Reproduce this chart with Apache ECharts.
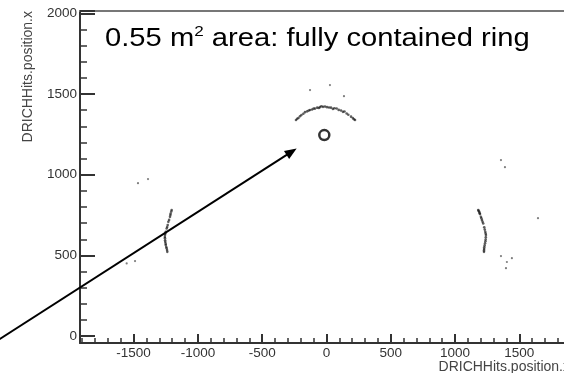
<!DOCTYPE html>
<html><head><meta charset="utf-8">
<script src="https://cdn.jsdelivr.net/npm/echarts@6/dist/echarts.min.js"></script>
<style>html,body{margin:0;padding:0;background:#fff}#c{width:564px;height:373px}</style>
</head><body><div id="c"></div>
<script>
// ---- data ----
const xRange = [-1917, 1925];
const yRange = [-43, 2015];
const xAxisTitle = 'DRICHHits.position.x';
const yAxisTitle = 'DRICHHits.position.x';
const annotation = '0.55 m{sup|2} area: fully contained ring';

const arcTop = [[-237,1339],[-228,1347],[-218,1352],[-206,1363],[-195,1370],[-180,1378],[-167,1388],[-150,1393],[-138,1398],[-128,1401],[-112,1404],[-100,1410],[-89,1410],[-72,1416],[-60,1414],[-51,1419],[-40,1425],[-27,1421],[-12,1423],[4,1419],[20,1417],[35,1416],[50,1408],[62,1412],[79,1411],[95,1402],[113,1398],[128,1390],[140,1392],[157,1380],[170,1372],[191,1360],[205,1351],[214,1344],[222,1339]];
const arcLeft = [[-1204,781],[-1207,772],[-1212,760],[-1214,750],[-1217,739],[-1224,720],[-1230,708],[-1235,688],[-1239,676],[-1243,667],[-1250,646],[-1253,636],[-1256,626],[-1257,614],[-1256,606],[-1255,594],[-1254,584],[-1251,573],[-1250,564],[-1246,552],[-1243,544],[-1240,533],[-1238,522]];
const arcRight = [[1180,781],[1183,776],[1188,770],[1191,762],[1194,756],[1201,739],[1205,730],[1209,719],[1214,708],[1219,698],[1227,674],[1231,660],[1235,646],[1238,636],[1240,626],[1239,612],[1238,599],[1236,588],[1233,575],[1230,562],[1227,550],[1226,540],[1225,530],[1225,522]];
const strayHits = [[-128,1525],[27,1556],[136,1487],[-1466,948],[-1388,973],[-1554,450],[-1489,465],[1357,1091],[1388,1047],[1645,731],[1357,496],[1442,483],[1403,459],[1396,421]];
const ringCenter = [[-17,1246]];
const arrowFrom = [-2578, -37];
const arrowTo = [-232, 1163];

const FONT = '"Liberation Sans", Arial, sans-serif';
const chart = echarts.init(document.getElementById('c'), null, {renderer: 'canvas'});

const dotSeries = (data, size, color) => ({
  type: 'scatter', data, symbol: 'circle', symbolSize: size, silent: true,
  itemStyle: {color}, clip: false, animation: false
});
const plain = v => String(v);

chart.setOption({
  animation: false,
  backgroundColor: '#fff',
  grid: {left: 80, right: -10, top: 11, bottom: 30, containLabel: false, outerBoundsMode: 'none'},
  xAxis: [{
    type: 'value', min: xRange[0], max: xRange[1], splitNumber: 8,
    position: 'bottom',
    splitLine: {show: false},
    axisLine: {show: true, onZero: false, lineStyle: {color: '#333', width: 2}},
    axisTick: {show: true, inside: true, length: 9, lineStyle: {color: '#333', width: 2}},
    minorTick: {show: true, splitNumber: 5, length: 5, lineStyle: {color: '#333', width: 1.5}},
    axisLabel: {show: true, showMinLabel: false, showMaxLabel: false, margin: 3, formatter: plain,
      color: '#333', fontFamily: FONT, fontSize: 13.5},
    name: xAxisTitle, nameLocation: 'end', nameGap: 0, nameMoveOverlap: false,
    nameTextStyle: {align: 'right', verticalAlign: 'top', padding: [17, 4, 0, 0],
      color: '#444', fontFamily: FONT, fontSize: 14}
  }, {
    type: 'value', min: xRange[0], max: xRange[1], position: 'top',
    axisLine: {show: true, onZero: false, lineStyle: {color: '#777', width: 2}},
    axisTick: {show: false}, axisLabel: {show: false}, splitLine: {show: false}
  }],
  yAxis: [{
    type: 'value', min: yRange[0], max: yRange[1], splitNumber: 4,
    splitLine: {show: false},
    axisLine: {show: true, onZero: false, lineStyle: {color: '#333', width: 2}},
    axisTick: {show: true, inside: true, length: 15, lineStyle: {color: '#333', width: 2}},
    minorTick: {show: true, splitNumber: 5, length: 7, lineStyle: {color: '#333', width: 1.5}},
    axisLabel: {show: true, showMinLabel: false, showMaxLabel: false, margin: 3, formatter: plain,
      color: '#333', fontFamily: FONT, fontSize: 13.5},
    name: yAxisTitle, nameLocation: 'end', nameGap: 0, nameRotate: 90, nameMoveOverlap: false,
    nameTextStyle: {align: 'right', verticalAlign: 'bottom', padding: [0, 0, 45, 0],
      color: '#444', fontFamily: FONT, fontSize: 14}
  }],
  series: [
    dotSeries(arcTop, 2.6, 'rgba(20,20,20,0.85)'),
    dotSeries(arcLeft, 2.6, 'rgba(20,20,20,0.85)'),
    dotSeries(arcRight, 2.6, 'rgba(20,20,20,0.85)'),
    dotSeries(strayHits, 2.2, 'rgba(40,40,40,0.75)'),
    {
      type: 'scatter', data: ringCenter, symbol: 'circle', symbolSize: 10, silent: true,
      itemStyle: {color: '#fff', borderColor: '#000', borderWidth: 2.5}, animation: false
    }
  ]
});

// arrow + annotation, positioned through the chart's own scales
const p1 = chart.convertToPixel({seriesIndex: 0}, arrowFrom);
const p2 = chart.convertToPixel({seriesIndex: 0}, arrowTo);
const dx = p2[0] - p1[0], dy = p2[1] - p1[1];
const L = Math.hypot(dx, dy), ux = dx / L, uy = dy / L;
const headLen = 12, headHalf = 4.8;
const bx = p2[0] - ux * headLen, by = p2[1] - uy * headLen;

chart.setOption({
  graphic: [
    {type: 'line', silent: true, z: 100,
      shape: {x1: p1[0], y1: p1[1], x2: bx + ux * 2, y2: by + uy * 2},
      style: {stroke: '#000', lineWidth: 2}},
    {type: 'polygon', silent: true, z: 100,
      shape: {points: [[p2[0], p2[1]], [bx - uy * headHalf, by + ux * headHalf], [bx + uy * headHalf, by - ux * headHalf]]},
      style: {fill: '#000'}},
    {type: 'text', silent: true, z: 100, x: 105, y: 24, scaleX: 1.14,
      style: {text: annotation, fontFamily: FONT, fontSize: 25.6, lineHeight: 30,
        fill: '#000', align: 'left', verticalAlign: 'top',
        rich: {sup: {fontSize: 15, lineHeight: 15, verticalAlign: 'top', fontFamily: FONT, fill: '#000'}}}}
  ]
});
</script></body></html>
